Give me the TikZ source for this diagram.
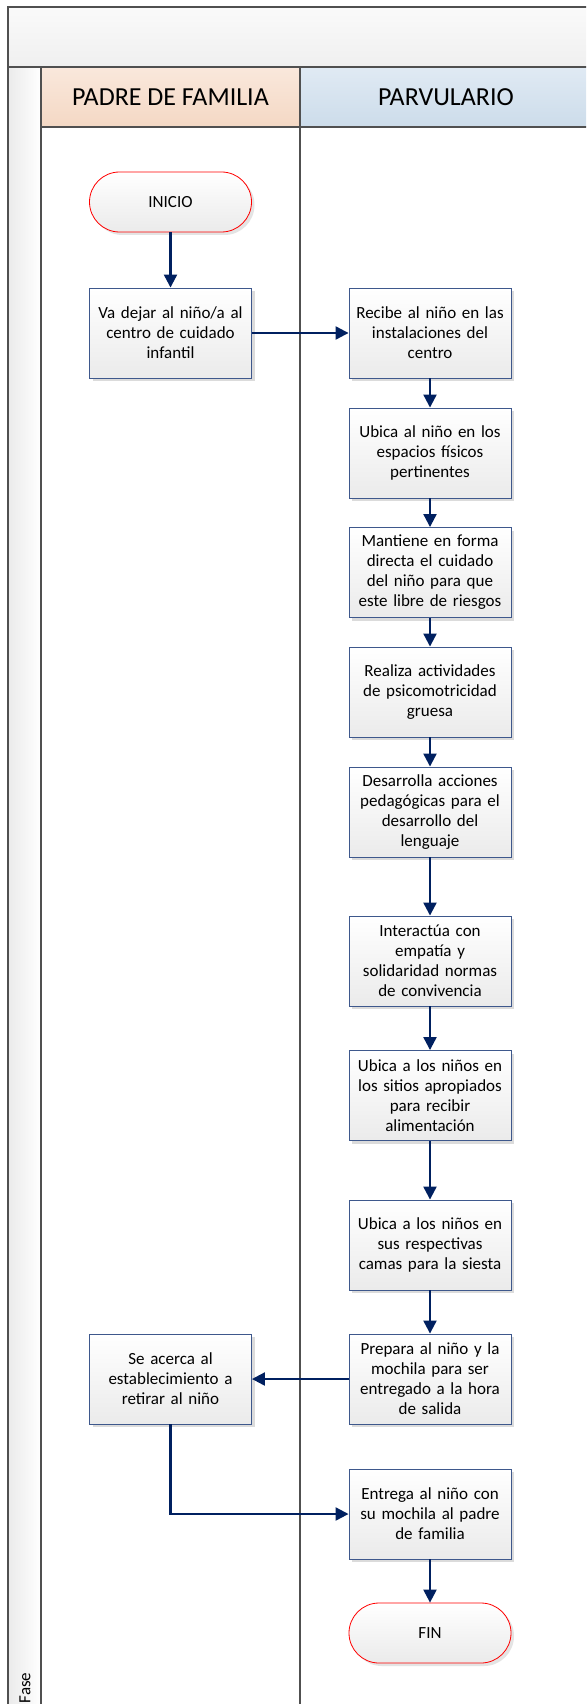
\documentclass[tikz,border=0pt]{standalone}
\usepackage{fontspec}
\setmainfont{Carlito}
\usetikzlibrary{arrows.meta,shadows,positioning}
\definecolor{navy}{RGB}{0,32,96}
\definecolor{boxline}{RGB}{62,88,140}
\definecolor{frameline}{RGB}{80,80,80}
\definecolor{peachtop}{RGB}{250,232,220}
\definecolor{peachbot}{RGB}{244,216,196}
\definecolor{bluetop}{RGB}{224,234,244}
\definecolor{bluebot}{RGB}{204,220,234}
\tikzset{
  procbox/.style={draw=boxline, line width=0.9pt, top color=white, bottom color=black!8,
    minimum width=162pt, minimum height=90pt, text width=158pt, align=center,
    font=\fontsize{17}{20}\selectfont, inner sep=0pt,
    drop shadow={shadow xshift=3pt, shadow yshift=-3pt, fill=black!20, opacity=0.7}},
  termbox/.style={draw=red, line width=0.8pt, top color=white, bottom color=black!8,
    minimum width=162pt, minimum height=60pt, rounded corners=30pt,
    font=\fontsize{17}{20}\selectfont, inner sep=0pt,
    drop shadow={shadow xshift=3pt, shadow yshift=-3pt, fill=black!15, opacity=0.7}},
  flow/.style={draw=navy, line width=2.2pt, -{Triangle[length=13pt,width=13pt]}},
  frame/.style={draw=frameline, line width=1.6pt},
  headtext/.style={font=\fontsize{26}{30}\selectfont}
}
\begin{document}
\begin{tikzpicture}[x=1pt,y=-1pt]
\useasboundingbox (0,0) rectangle (586,1704);
\clip (0,0) rectangle (586,1704);
% backgrounds
\fill[white] (0,0) rectangle (586,1704);
\shade[top color=black!2, bottom color=black!6] (8,7) rectangle (600,67);
\shade[left color=black!8, right color=white] (8,67) rectangle (41,1720);
\shade[top color=peachtop, bottom color=peachbot] (41,67) rectangle (300,127);
\shade[top color=bluetop, bottom color=bluebot] (300,67) rectangle (600,127);
% frame lines
\draw[frame] (600,7) -- (8,7) -- (8,1720);
\draw[frame] (8,67) -- (600,67);
\draw[frame] (41,127) -- (600,127);
\draw[frame] (41,67) -- (41,1720);
\draw[frame] (300,67) -- (300,1720);
% header texts
\node[headtext] (hpadre) at (170.5,97) {PADRE DE FAMILIA};
\node[headtext] (hparv) at (446,97) {PARVULARIO};
\node[rotate=90, font=\fontsize{17}{20}\selectfont] (fase) at (25,1688) {Fase};
% nodes
\node[termbox] (inicio) at (170.5,202) {INICIO};
\node[procbox] (va) at (170.5,333) {Va dejar al niño/a al\\centro de cuidado\\infantil};
\node[procbox] (recibe) at (430,333) {Recibe al niño en las\\instalaciones del\\centro};
\node[procbox] (ubica1) at (430,453) {Ubica al niño en los\\espacios físicos\\pertinentes};
\node[procbox] (mantiene) at (430,572.5) {Mantiene en forma\\directa el cuidado\\del niño para que\\este libre de riesgos};
\node[procbox] (realiza) at (430,692) {Realiza actividades\\de psicomotricidad\\gruesa};
\node[procbox] (desarrolla) at (430,812) {Desarrolla acciones\\pedagógicas para el\\desarrollo del\\lenguaje};
\node[procbox] (interactua) at (430,961) {Interactúa con\\empatía y\\solidaridad normas\\de convivencia};
\node[procbox] (ubica2) at (430,1095.5) {Ubica a los niños en\\los sitios apropiados\\para recibir\\alimentación};
\node[procbox] (ubica3) at (430,1245) {Ubica a los niños en\\sus respectivas\\camas para la siesta};
\node[procbox] (prepara) at (430,1379) {Prepara al niño y la\\mochila para ser\\entregado a la hora\\de salida};
\node[procbox] (acerca) at (170.5,1379) {Se acerca al\\establecimiento a\\retirar al niño};
\node[procbox] (entrega) at (430,1514) {Entrega al niño con\\su mochila al padre\\de familia};
\node[termbox] (fin) at (430,1633) {FIN};
% connectors
\draw[flow] (inicio) -- (va);
\draw[flow] (va) -- (recibe);
\draw[flow] (recibe) -- (ubica1);
\draw[flow] (ubica1) -- (mantiene);
\draw[flow] (mantiene) -- (realiza);
\draw[flow] (realiza) -- (desarrolla);
\draw[flow] (desarrolla) -- (interactua);
\draw[flow] (interactua) -- (ubica2);
\draw[flow] (ubica2) -- (ubica3);
\draw[flow] (ubica3) -- (prepara);
\draw[flow] (prepara) -- (acerca);
\draw[flow] (acerca.south) |- (entrega.west);
\draw[flow] (entrega) -- (fin);
\end{tikzpicture}
\end{document}
